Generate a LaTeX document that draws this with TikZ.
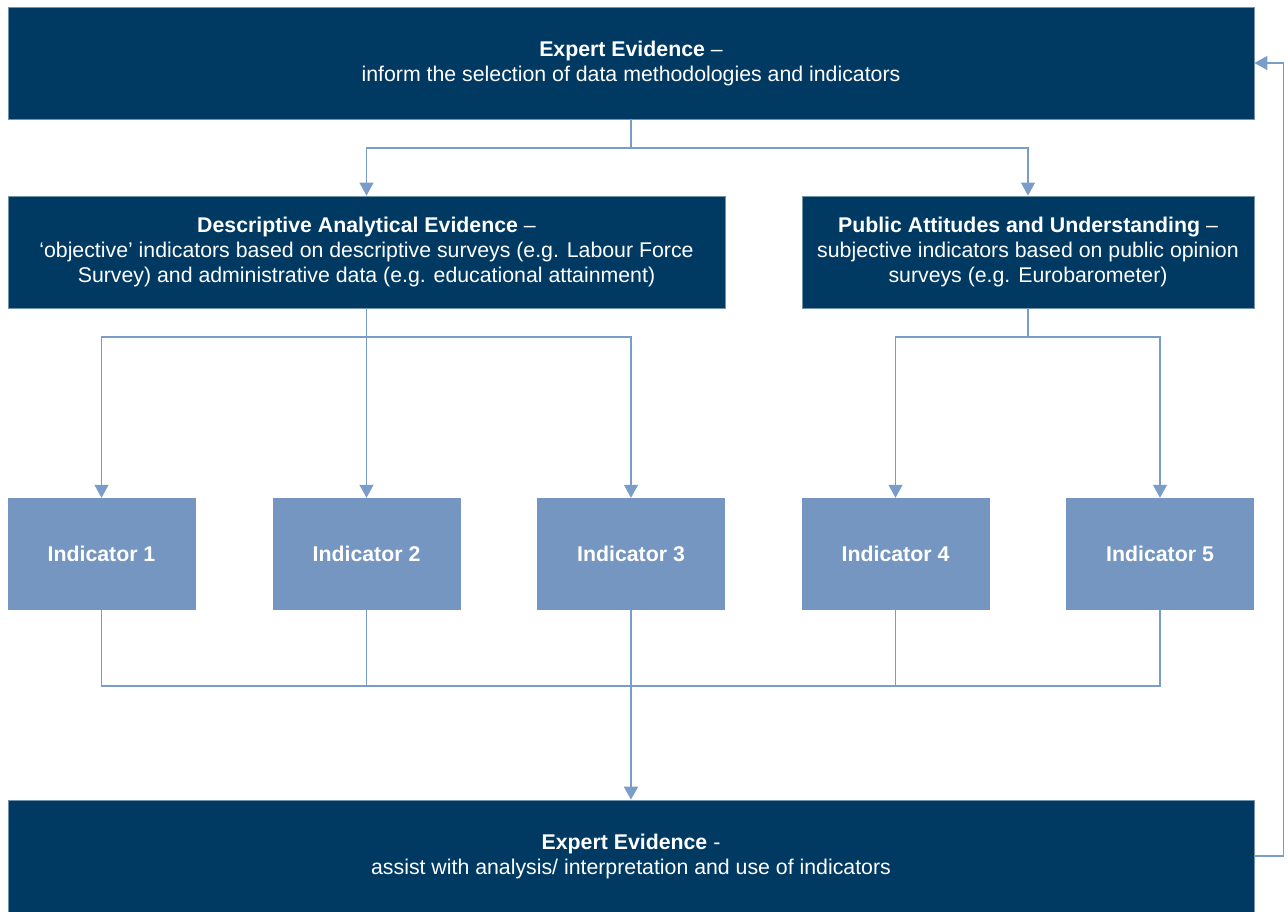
\documentclass[tikz,border=0pt]{standalone}
\usepackage{fontspec}
\setmainfont{Liberation Sans}
\usepackage{tikz}
\definecolor{evnavy}{HTML}{003A63}
\definecolor{evlight}{HTML}{7596C0}
\definecolor{evline}{HTML}{7A9CC8}
\usetikzlibrary{arrows.meta,positioning}
\tikzset{
	evidence/.style={rectangle, fill=evnavy, draw=evnavy!55!white, line width=0.8pt, text=white, align=center,
		minimum width=#1, minimum height=112pt, inner sep=0pt},
	indbox/.style={rectangle, fill=evlight, text=white, minimum width=188pt, minimum height=112pt,
		inner sep=0pt, font=\fontsize{21.3}{25}\selectfont\bfseries},
	line/.style={draw=evline, line width=1.1pt},
	flow/.style={line, -{Triangle[width=14pt,length=13pt]}}
}

\begin{document}
\begin{tikzpicture}[x=1pt,y=-1pt,every node/.append style={font=\fontsize{21.3}{25}\selectfont}]
	\useasboundingbox (0,0) rectangle (1288,911);
	% Expert evidence (top):
	\node[evidence=1246pt] (expTop) at (631,63)
		{\textbf{Expert Evidence} --\\inform the selection of data methodologies and indicators};
	% Evidence sources:
	\node[evidence=717pt] (descEv) at (366.5,252)
		{\textbf{Descriptive Analytical Evidence} --\\`objective' indicators based on descriptive surveys (e.g. Labour Force\\Survey) and administrative data (e.g. educational attainment)};
	\node[evidence=452pt] (pubEv) at (1028,252)
		{\textbf{Public Attitudes and Understanding} --\\subjective indicators based on public opinion\\surveys (e.g. Eurobarometer)};
	% Indicators:
	\node[indbox] (ind1) at (101.5,554) {Indicator 1};
	\node[indbox] (ind2) at (366.5,554) {Indicator 2};
	\node[indbox] (ind3) at (631,554) {Indicator 3};
	\node[indbox] (ind4) at (895.5,554) {Indicator 4};
	\node[indbox] (ind5) at (1160,554) {Indicator 5};
	% Expert evidence (bottom):
	\node[evidence=1246pt] (expBot) at (631,856)
		{\textbf{Expert Evidence} -\\assist with analysis/ interpretation and use of indicators};
	% Split and join points:
	\coordinate (split1) at (631,148);
	\coordinate (split2) at (366.5,337);
	\coordinate (split3) at (1028,337);
	\coordinate (join) at (631,686);
	% Flows down:
	\draw[line] (expTop.south) -- (split1);
	\draw[flow] (split1) -| (descEv.north);
	\draw[flow] (split1) -| (pubEv.north);
	\draw[flow] (descEv.south) -- (ind2.north);
	\draw[flow] (split2) -| (ind1.north);
	\draw[flow] (split2) -| (ind3.north);
	\draw[line] (pubEv.south) -- (split3);
	\draw[flow] (split3) -| (ind4.north);
	\draw[flow] (split3) -| (ind5.north);
	% Join:
	\draw[line] (ind1.south) |- (ind5.south |- join) -- (ind5.south);
	\draw[line] (ind2.south) -- (ind2.south |- join);
	\draw[line] (ind3.south) -- (join);
	\draw[line] (ind4.south) -- (ind4.south |- join);
	\draw[flow, line width=2pt] (join) -- (expBot.north);
	% Feedback:
	\draw[flow] (expBot.east) -- ++(29,0) |- (expTop.east);
\end{tikzpicture}
\end{document}
